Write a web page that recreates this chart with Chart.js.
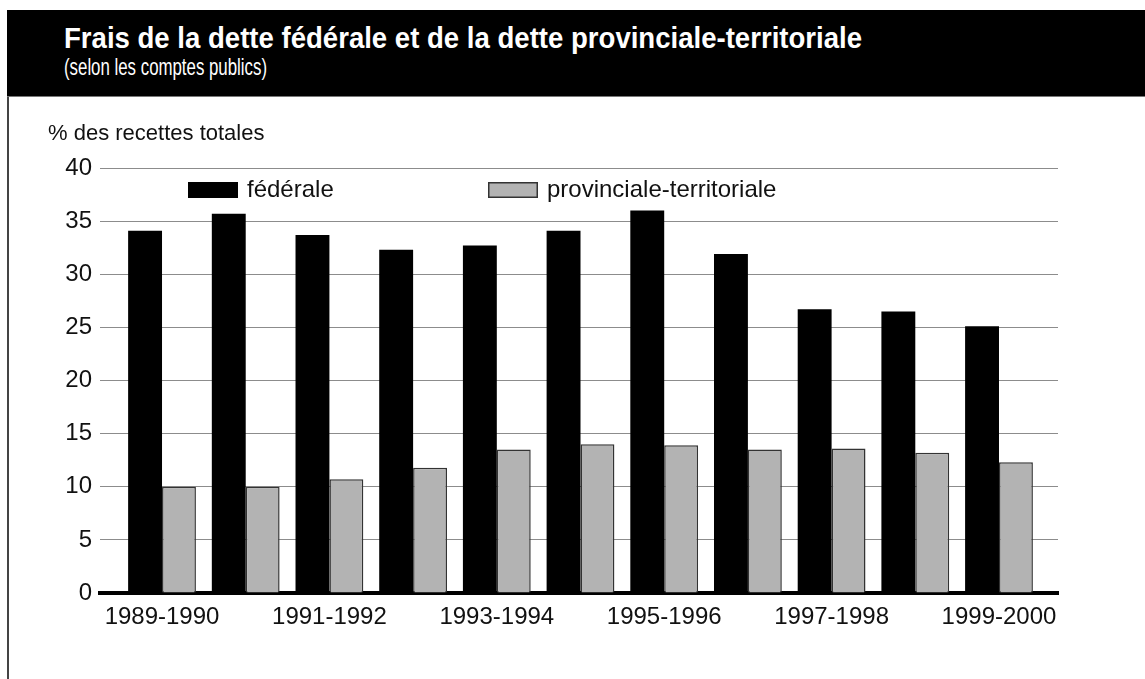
<!DOCTYPE html>
<html lang="fr">
<head>
<meta charset="utf-8">
<script src="https://cdn.jsdelivr.net/npm/chart.js@4.4.1/dist/chart.umd.min.js"></script>
<style>
    html, body { margin: 0; padding: 0; background: #fff; }
    #page { position: relative; width: 1145px; height: 679px; overflow: hidden; }
    #chart { position: absolute; left: 0; top: 0; }
    #band {
        position: absolute; left: 7px; top: 10px; right: 0; height: 86px;
        background: #000; border-bottom: 1px solid #777;
    }
    #title, #subtitle {
        position: absolute; left: 57px; color: #fff; white-space: nowrap;
        transform-origin: 0 50%;
        font-family: 'Liberation Sans Narrow', 'Arial Narrow', 'Liberation Sans', sans-serif;
    }
    #title { top: 12px; font-size: 29px; font-weight: bold; }
    #subtitle { top: 43px; font-size: 24px; }
    #edge { position: absolute; left: 7px; top: 97px; bottom: 0; width: 2px; background: #444; }
    #unit {
        position: absolute; left: 48px; top: 120px; color: #111; white-space: nowrap;
        font: 22px 'Liberation Sans', Arial, sans-serif;
    }
</style>
</head>
<body>
<div id="page">
    <canvas id="chart" width="1145" height="679"></canvas>
    <div id="band">
        <span id="title">Frais de la dette fédérale et de la dette provinciale-territoriale</span>
        <span id="subtitle">(selon les comptes publics)</span>
    </div>
    <div id="edge"></div>
    <div id="unit">% des recettes totales</div>
</div>
<script>
// exercices financiers
const periods = ['1989-1990', '1990-1991', '1991-1992', '1992-1993', '1993-1994', '1994-1995',
    '1995-1996', '1996-1997', '1997-1998', '1998-1999', '1999-2000'];
// frais de la dette en % des recettes totales
const federale = [34.1, 35.7, 33.7, 32.3, 32.7, 34.1, 36.0, 31.9, 26.7, 26.5, 25.1];
const provinciale = [10.0, 10.0, 10.7, 11.8, 13.5, 14.0, 13.9, 13.5, 13.6, 13.2, 12.3];
const yTicks = [0, 5, 10, 15, 20, 25, 30, 35, 40];
const xTickEvery = 2;

const fontFamily = "'Liberation Sans', Arial, sans-serif";
const textColor = '#111';

// le titre est en caractères étroits : on resserre le texte à la largeur voulue
function squeeze(id, width) {
    const el = document.getElementById(id);
    const w = el.getBoundingClientRect().width;
    if (w > width) {
        el.style.transform = 'scaleX(' + (width / w) + ')';
    }
}
squeeze('title', 798);
squeeze('subtitle', 203);

// légende dessinée dans la zone du graphique
const innerLegend = {
    id: 'innerLegend',
    afterDatasetsDraw(chart) {
        const ctx = chart.ctx;
        const area = chart.chartArea;
        const offsets = [88, 388];
        ctx.save();
        ctx.font = '24px ' + fontFamily;
        ctx.textBaseline = 'middle';
        chart.data.datasets.forEach((ds, i) => {
            const x = area.left + offsets[i];
            const y = area.top + 14;
            ctx.fillStyle = ds.backgroundColor;
            ctx.fillRect(x, y, 50, 16);
            if (ds.borderWidth) {
                ctx.strokeStyle = ds.borderColor;
                ctx.lineWidth = 1.5;
                ctx.strokeRect(x + 0.75, y + 0.75, 48.5, 14.5);
            }
            ctx.fillStyle = textColor;
            ctx.fillText(ds.label, x + 59, y + 8);
        });
        ctx.restore();
    }
};

new Chart(document.getElementById('chart'), {
    type: 'bar',
    data: {
        datasets: [{
            label: 'fédérale',
            data: federale.map((v, i) => ({ x: i, y: v })),
            backgroundColor: '#000000',
            borderWidth: 0
        }, {
            label: 'provinciale-territoriale',
            data: provinciale.map((v, i) => ({ x: i, y: v })),
            backgroundColor: '#b3b3b3',
            borderColor: '#333333',
            borderWidth: 1.5
        }]
    },
    options: {
        responsive: false,
        animation: false,
        categoryPercentage: 0.81,
        barPercentage: 1,
        layout: {
            padding: { top: 168, right: 87, bottom: 0, left: 0 }
        },
        plugins: {
            legend: { display: false },
            tooltip: { enabled: false }
        },
        scales: {
            x: {
                type: 'linear',
                min: -0.741,
                max: 10.705,
                offset: false,
                z: 1,
                grid: { display: false, drawTicks: false },
                border: { display: true, color: '#000', width: 4 },
                afterFit: (s) => { s.height = 86; },
                afterBuildTicks: (s) => {
                    s.ticks = periods.map((p, i) => ({ value: i })).filter(t => t.value % xTickEvery === 0);
                },
                ticks: {
                    autoSkip: false,
                    maxRotation: 0,
                    padding: 10,
                    color: textColor,
                    font: { family: fontFamily, size: 24 },
                    callback: (v) => periods[v]
                }
            },
            y: {
                min: 0,
                max: 40,
                afterFit: (s) => { s.width = 100; },
                afterBuildTicks: (s) => { s.ticks = yTicks.map(v => ({ value: v })); },
                grid: { color: '#8c8c8c', lineWidth: 1, drawTicks: false },
                border: { display: false },
                ticks: {
                    padding: 8,
                    color: textColor,
                    font: { family: fontFamily, size: 24 }
                }
            }
        }
    },
    plugins: [innerLegend]
});
</script>
</body>
</html>
